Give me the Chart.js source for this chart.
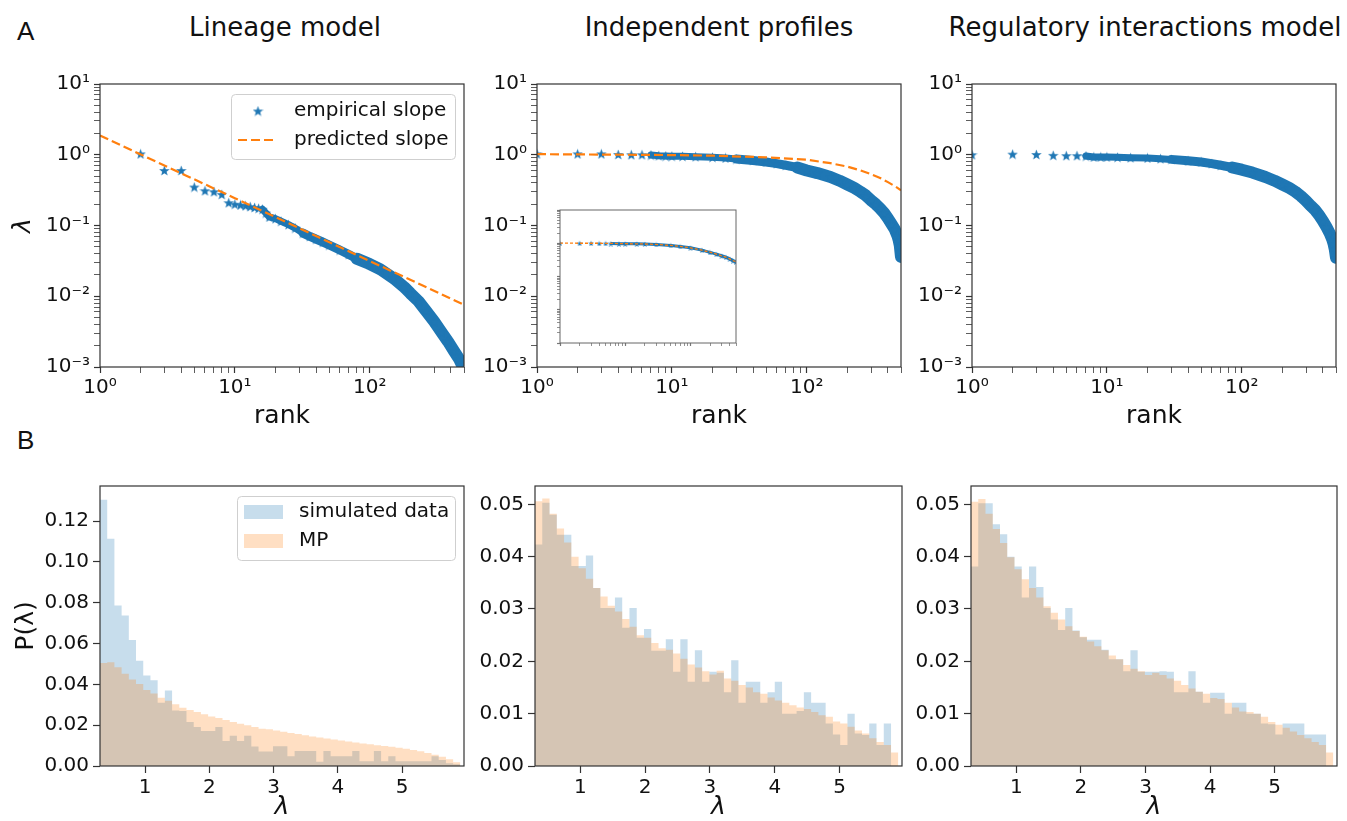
<!DOCTYPE html>
<html>
<head>
<meta charset="utf-8">
<title>Eigenvalue spectra</title>
<script src="https://cdn.jsdelivr.net/npm/chart.js@4.4.1/dist/chart.umd.min.js"></script>
<style>
  html, body { margin: 0; padding: 0; background: #fff; overflow: hidden; }
  body { position: relative; width: 1347px; height: 821px; }
  .txt { position: absolute; white-space: nowrap; color: #111; line-height: 30px; }
  .panel-title { font: 26px 'DejaVu Sans', sans-serif; transform: translateX(-50%); }
  .letter { font: 26px 'Liberation Sans', Arial, sans-serif; }
</style>
</head>
<body>
<div class="txt letter" style="left:17px; top:16px">A</div>
<div class="txt letter" style="left:17px; top:425px">B</div>
<div class="txt panel-title" style="left:285px; top:12px">Lineage model</div>
<div class="txt panel-title" style="left:719px; top:12px">Independent profiles</div>
<div class="txt panel-title" style="left:1145px; top:12px">Regulatory interactions model</div>
<script>
// ---- row A: eigenvalue vs rank (log-log) ----
const lineageRank = [2, 3, 4, 5, 6, 7, 8, 9, 10, 11, 12, 13, 14, 15, 16, 17, 18,
  20, 22, 25, 28, 32, 36, 40, 45, 50, 60, 70, 80, 100, 120, 150, 180, 200,
  230, 260, 300, 340, 380, 420, 460, 500];
const lineageEmpirical = [1.03, 0.60, 0.60, 0.35, 0.31, 0.30, 0.275, 0.21, 0.20, 0.195, 0.19, 0.185, 0.18, 0.175, 0.17, 0.15, 0.132,
  0.125, 0.115, 0.103, 0.092, 0.078, 0.070, 0.064, 0.058, 0.053, 0.045, 0.039, 0.034, 0.0285, 0.024, 0.018, 0.0135, 0.011,
  0.0085, 0.0063, 0.0044, 0.0031, 0.0023, 0.0017, 0.0013, 0.00093];
const lineagePredRank = [1, 10, 100, 500];
const lineagePredicted = [1.87, 0.243, 0.0315, 0.0076];

const independentRank = [1, 2, 3, 4, 5, 6, 7, 8, 9, 10, 12, 15, 20, 25, 30, 40, 50, 60, 70, 85,
  100, 120, 150, 175, 200, 225, 250, 275, 300, 325, 350, 375, 400, 425, 450, 470, 480, 490, 500];
const independentEmpirical = [1.03, 1.03, 1.03, 1.01, 1.0, 1.0, 0.99, 0.97, 0.96, 0.955, 0.95, 0.94, 0.92, 0.90, 0.87, 0.83, 0.79, 0.75, 0.71, 0.66,
  0.60, 0.55, 0.485, 0.43, 0.38, 0.34, 0.30, 0.265, 0.227, 0.20, 0.174, 0.15, 0.126, 0.105, 0.088, 0.072, 0.063, 0.052, 0.036];
const independentPredRank = [1, 10, 20, 50, 100, 150, 200, 250, 300, 350, 400, 450, 500];
const independentPredicted = [1.02, 0.99, 0.97, 0.92, 0.85, 0.76, 0.68, 0.60, 0.53, 0.47, 0.41, 0.36, 0.315];

const insetRank = [1, 2, 3, 4, 5, 6, 8, 10, 15, 20, 30, 50, 70, 100, 150, 200, 250, 300, 350, 400, 450, 500];
const insetEmpirical = [1.0, 1.0, 1.0, 0.99, 0.99, 0.98, 0.97, 0.97, 0.96, 0.95, 0.92, 0.86, 0.80, 0.73, 0.62, 0.53, 0.47, 0.42, 0.38, 0.34, 0.30, 0.275];
const insetPredicted = [1.01, 1.0, 1.0, 1.0, 0.99, 0.99, 0.98, 0.97, 0.96, 0.95, 0.92, 0.86, 0.80, 0.73, 0.62, 0.54, 0.47, 0.42, 0.38, 0.34, 0.30, 0.28];

const regulatoryRank = independentRank;
const regulatoryEmpirical = [1.0, 1.02, 1.01, 0.98, 0.97, 0.97, 0.96, 0.93, 0.93, 0.93, 0.92, 0.91, 0.90, 0.88, 0.86, 0.82, 0.79, 0.75, 0.71, 0.66,
  0.615, 0.56, 0.485, 0.43, 0.38, 0.34, 0.30, 0.26, 0.223, 0.19, 0.165, 0.14, 0.116, 0.095, 0.077, 0.063, 0.055, 0.046, 0.035];

// ---- row B: eigenvalue histograms (50 bins) ----
const BIN_START = 0.298, BIN_WIDTH = 0.1122, N_BINS = 50;
const lambdaTicks = [1, 2, 3, 4, 5];
const densityTicksLineage = [0, 0.02, 0.04, 0.06, 0.08, 0.10, 0.12];
const densityTicks = [0, 0.01, 0.02, 0.03, 0.04, 0.05];

const lineageSim = [0.1305, 0.1113, 0.0786, 0.0738, 0.0617, 0.0516, 0.0444, 0.0420, 0.0310, 0.0370,
  0.0272, 0.0270, 0.0215, 0.0191, 0.0172, 0.0172, 0.0191, 0.0122, 0.0148, 0.0122,
  0.0148, 0.0095, 0.0071, 0.0071, 0.0097, 0.0097, 0.0048, 0.0074, 0.0074, 0.0074,
  0.0021, 0.0074, 0.0048, 0.0048, 0.0048, 0.0074, 0.0023, 0.0023, 0.0074, 0.0023,
  0.0048, 0.0023, 0.0023, 0.0023, 0.0023, 0.0023, 0.0048, 0.0030, 0.0013, 0.0008];
const lineageMP = [0.0505, 0.0508, 0.0484, 0.0452, 0.0424, 0.0402, 0.0373, 0.0355, 0.0334, 0.0320,
  0.0302, 0.0286, 0.0275, 0.0264, 0.0254, 0.0243, 0.0235, 0.0225, 0.0215, 0.0207,
  0.0200, 0.0191, 0.0183, 0.0180, 0.0174, 0.0168, 0.0162, 0.0157, 0.0151, 0.0145,
  0.0140, 0.0135, 0.0130, 0.0125, 0.0120, 0.0115, 0.0110, 0.0106, 0.0102, 0.0098,
  0.0094, 0.0089, 0.0084, 0.0078, 0.0072, 0.0064, 0.0055, 0.0045, 0.0033, 0.0018];

const independentSim = [0.0423, 0.0503, 0.0480, 0.0442, 0.0442, 0.0382, 0.0382, 0.0402, 0.0340, 0.0302,
  0.0302, 0.0322, 0.0264, 0.0302, 0.0245, 0.0262, 0.0220, 0.0220, 0.0242, 0.0180,
  0.0242, 0.0161, 0.0221, 0.0161, 0.0180, 0.0178, 0.0141, 0.0202, 0.0121, 0.0161,
  0.0161, 0.0121, 0.0141, 0.0161, 0.0100, 0.0100, 0.0105, 0.0141, 0.0121, 0.0121,
  0.0081, 0.0060, 0.0040, 0.0100, 0.0062, 0.0059, 0.0081, 0.0040, 0.0081, 0.0000];
const independentMP = [0.0506, 0.0511, 0.0482, 0.0454, 0.0427, 0.0400, 0.0378, 0.0358, 0.0340, 0.0324,
  0.0306, 0.0295, 0.0281, 0.0266, 0.0250, 0.0245, 0.0235, 0.0225, 0.0222, 0.0215,
  0.0205, 0.0194, 0.0188, 0.0181, 0.0175, 0.0182, 0.0167, 0.0163, 0.0155, 0.0150,
  0.0141, 0.0138, 0.0131, 0.0125, 0.0121, 0.0116, 0.0112, 0.0109, 0.0103, 0.0097,
  0.0094, 0.0085, 0.0081, 0.0075, 0.0068, 0.0062, 0.0053, 0.0046, 0.0040, 0.0026];

const regulatorySim = [0.0381, 0.0502, 0.0502, 0.0462, 0.0443, 0.0400, 0.0381, 0.0322, 0.0381, 0.0342,
  0.0302, 0.0280, 0.0260, 0.0302, 0.0259, 0.0246, 0.0241, 0.0241, 0.0222, 0.0204,
  0.0204, 0.0181, 0.0221, 0.0180, 0.0180, 0.0180, 0.0181, 0.0180, 0.0141, 0.0141,
  0.0181, 0.0142, 0.0121, 0.0140, 0.0140, 0.0100, 0.0121, 0.0121, 0.0100, 0.0100,
  0.0081, 0.0080, 0.0060, 0.0081, 0.0081, 0.0081, 0.0060, 0.0060, 0.0060, 0.0000];
const regulatoryMP = [0.0505, 0.0510, 0.0482, 0.0453, 0.0426, 0.0399, 0.0376, 0.0357, 0.0340, 0.0322,
  0.0305, 0.0293, 0.0280, 0.0267, 0.0258, 0.0247, 0.0238, 0.0229, 0.0221, 0.0211,
  0.0204, 0.0193, 0.0186, 0.0181, 0.0174, 0.0178, 0.0174, 0.0167, 0.0163, 0.0155,
  0.0148, 0.0142, 0.0138, 0.0130, 0.0128, 0.0121, 0.0112, 0.0104, 0.0103, 0.0100,
  0.0094, 0.0084, 0.0079, 0.0073, 0.0066, 0.0059, 0.0053, 0.0046, 0.0040, 0.0026];

const BLUE = '#1f77b4', ORANGE = '#ff7f0e';
const BLUE_A = 'rgba(31,119,180,0.25)', ORANGE_A = 'rgba(255,127,14,0.25)';
const INK = '#111';

Chart.defaults.font.family = "'DejaVu Sans', sans-serif";
Chart.defaults.font.size = 20;
Chart.defaults.color = INK;
Chart.defaults.animation = false;
Chart.defaults.events = [];
Chart.defaults.plugins.legend.display = false;
Chart.defaults.plugins.tooltip.enabled = false;

// axes box on all four sides, like matplotlib spines
const framePlugin = {
  id: 'frame',
  defaults: { color: '#333', width: 1.2, fill: null },
  beforeDatasetsDraw(chart, args, o) {
    if (!o.fill) return;
    const a = chart.chartArea, ctx = chart.ctx;
    ctx.save();
    ctx.fillStyle = o.fill;
    ctx.fillRect(a.left, a.top, a.width, a.height);
    ctx.restore();
  },
  afterDatasetsDraw(chart, args, o) {
    const a = chart.chartArea, ctx = chart.ctx;
    ctx.save();
    ctx.strokeStyle = o.color;
    ctx.lineWidth = o.width;
    ctx.strokeRect(a.left, a.top, a.width, a.height);
    ctx.restore();
  }
};

// framed legend placed inside the axes (top right)
const boxLegend = {
  id: 'boxLegend',
  afterDraw(chart, args, o) {
    if (!o.items) return;
    const ctx = chart.ctx, a = chart.chartArea;
    const x0 = a.right - o.right - o.width, y0 = a.top + o.top;
    ctx.save();
    ctx.beginPath();
    ctx.roundRect(x0 + 0.5, y0 + 0.5, o.width, o.height, 4);
    ctx.fillStyle = 'rgba(255,255,255,0.8)';
    ctx.fill();
    ctx.strokeStyle = '#cfcfcf';
    ctx.lineWidth = 1;
    ctx.stroke();
    ctx.font = "20px 'DejaVu Sans'";
    ctx.textBaseline = 'middle';
    o.items.forEach(it => {
      const ds = chart.data.datasets[it.ds];
      const cy = y0 + it.y;
      if (it.kind === 'star') {
        const img = ds.pointStyle;
        ctx.drawImage(img, x0 + 27 - img.width / 2, cy - img.height / 2);
      } else if (it.kind === 'dash') {
        ctx.beginPath();
        ctx.setLineDash(ds.borderDash);
        ctx.strokeStyle = ds.borderColor;
        ctx.lineWidth = ds.borderWidth;
        ctx.moveTo(x0 + 7, cy);
        ctx.lineTo(x0 + 46, cy);
        ctx.stroke();
        ctx.setLineDash([]);
      } else {
        ctx.fillStyle = ds.backgroundColor;
        ctx.fillRect(x0 + 7, cy - 7, 39, 14);
      }
      ctx.fillStyle = INK;
      ctx.fillText(ds.label, x0 + o.textX, cy);
    });
    ctx.restore();
  }
};
Chart.register(framePlugin, boxLegend);

function starImage(size, color) {
  const c = document.createElement('canvas');
  c.width = size; c.height = size;
  const g = c.getContext('2d');
  const R = size / 2, r = R * 0.42;
  g.beginPath();
  for (let i = 0; i < 10; i++) {
    const ang = -Math.PI / 2 + i * Math.PI / 5;
    const rad = i % 2 ? r : R;
    g.lineTo(R + rad * Math.cos(ang), R + 0.5 + rad * Math.sin(ang));
  }
  g.closePath();
  g.fillStyle = color;
  g.fill();
  return c;
}

function pairs(xs, ys) { return xs.map((x, i) => ({ x: x, y: ys[i] })); }

function mount(left, top, width, height) {
  const c = document.createElement('canvas');
  c.width = width; c.height = height;
  c.style.cssText = 'position:absolute;left:' + left + 'px;top:' + top + 'px;width:' + width + 'px;height:' + height + 'px';
  document.body.appendChild(c);
  return c;
}

const SUP = { '-': '\u207B', '0': '\u2070', '1': '\u00B9', '2': '\u00B2', '3': '\u00B3' };
function powLabel(v) {
  const e = Math.round(Math.log10(v));
  return '10' + String(e).split('').map(ch => SUP[ch]).join('');
}
function logTickList(loExp, max) {
  const out = [];
  for (let e = loExp; e < 5; e++) {
    for (let m = 1; m <= 9; m++) {
      const v = m * Math.pow(10, e);
      if (v > max * 1.0001) return out;
      out.push({ value: v, major: m === 1 });
    }
  }
  return out;
}

function axisTitle(text, italic) {
  if (!text) return { display: false };
  return { display: true, text: text, color: INK, padding: 0,
    font: { size: 25, style: italic ? 'italic' : 'normal', lineHeight: 1 } };
}

function logAxis(pos, min, max, loExp, size, labels, title, italic, tickLen, tickColor) {
  return {
    type: 'logarithmic', position: pos, min: min, max: max,
    afterBuildTicks: s => { s.ticks = logTickList(loExp, max); },
    afterFit: s => { if (pos === 'left') s.width = size; else s.height = size; },
    ticks: { display: labels, autoSkip: false, maxRotation: 0, padding: pos === 'left' ? 4 : 3,
      callback: (v, i, t) => (t[i].major ? powLabel(v) : '') },
    grid: { drawOnChartArea: false, tickLength: tickLen || 6, tickColor: tickColor || '#333',
      tickWidth: c => (c.tick && c.tick.major ? 1.2 : 0.8) },
    border: { display: false },
    title: axisTitle(title, italic)
  };
}

// band = dense run of overlapping star markers
function bandWidth(rank) { return rank < 30 ? 7 : (rank < 80 ? 9 : 12); }

function empiricalSet(ranks, values, bandFrom, star) {
  return {
    label: 'empirical slope', data: pairs(ranks, values),
    pointStyle: star, pointRadius: 5, showLine: true,
    borderColor: BLUE, borderCapStyle: 'round', borderJoinStyle: 'round',
    segment: {
      borderColor: c => (c.p0.parsed.x >= bandFrom ? BLUE : 'rgba(0,0,0,0)'),
      borderWidth: c => bandWidth(c.p0.parsed.x)
    },
    clip: 0, order: 1
  };
}
function predictedSet(ranks, values) {
  return { label: 'predicted slope', data: pairs(ranks, values), showLine: true, pointRadius: 0,
    borderColor: ORANGE, borderWidth: 2.2, borderDash: [9, 4], clip: 0, order: 0 };
}

function rankPanel(geo, datasets, yTitle, legend) {
  const cv = mount(geo.l - geo.yW, geo.t - 15, geo.yW + geo.w + 4, 15 + geo.h + 62);
  return new Chart(cv, {
    type: 'scatter',
    data: { datasets: datasets },
    options: {
      responsive: false,
      layout: { padding: { top: 15, right: 4, bottom: 0, left: 0 } },
      plugins: { boxLegend: legend || {} },
      scales: {
        x: logAxis('bottom', 1, 500, 0, 62, true, 'rank', false),
        y: logAxis('left', 0.001, 10, -3, geo.yW, true, yTitle, true)
      }
    }
  });
}

const blueStar = starImage(11, BLUE);

rankPanel({ l: 100, t: 83, w: 366, h: 284, yW: 89 }, [
  empiricalSet(lineageRank, lineageEmpirical, 16, blueStar),
  predictedSet(lineagePredRank, lineagePredicted)
], '\u03BB', {
  right: 9, top: 10, width: 224, height: 65, textX: 63,
  items: [{ ds: 0, y: 17, kind: 'star' }, { ds: 1, y: 46, kind: 'dash' }]
});

rankPanel({ l: 537, t: 83, w: 366, h: 284, yW: 62 }, [
  empiricalSet(independentRank, independentEmpirical, 7, blueStar),
  predictedSet(independentPredRank, independentPredicted)
], null, null);

rankPanel({ l: 972, t: 83, w: 366, h: 284, yW: 62 }, [
  empiricalSet(regulatoryRank, regulatoryEmpirical, 7, blueStar)
], null, null);

// inset of the independent-profiles panel
(function () {
  const cv = mount(557 - 4, 205 - 2, 4 + 184 + 2, 2 + 141 + 4);
  const small = starImage(6, BLUE);
  new Chart(cv, {
    type: 'scatter',
    data: { datasets: [
      { data: pairs(insetRank, insetEmpirical), pointStyle: small, pointRadius: 3, showLine: true,
        borderColor: BLUE, borderWidth: 3,
        segment: { borderColor: c => (c.p0.parsed.x >= 6 ? BLUE : 'rgba(0,0,0,0)') }, clip: 0, order: 1 },
      { data: pairs(insetRank, insetPredicted), pointRadius: 0, showLine: true,
        borderColor: ORANGE, borderWidth: 1.3, borderDash: [3, 2], clip: 0, order: 0 }
    ] },
    options: {
      responsive: false,
      layout: { padding: { top: 2, right: 2, bottom: 0, left: 0 } },
      plugins: { frame: { color: '#666', width: 1, fill: '#fff' } },
      scales: {
        x: logAxis('bottom', 1, 500, 0, 4, false, null, false, 3, '#777'),
        y: logAxis('left', 0.001, 10, -3, 4, false, null, false, 3, '#777')
      }
    }
  });
})();

// ---- histogram panels: filled step outlines (one polygon per series, no seams) ----
const binEdges = Array.from({ length: N_BINS + 1 }, (_, i) => BIN_START + i * BIN_WIDTH);

function stepSet(label, counts, color, order) {
  // last edge closes the final bin at its own height
  return {
    label: label, data: pairs(binEdges, counts.concat([counts[counts.length - 1]])),
    showLine: true, stepped: 'before', pointRadius: 0, borderWidth: 0,
    borderColor: 'rgba(0,0,0,0)', backgroundColor: color, fill: 'origin', order: order
  };
}

function histPanel(geo, sim, mp, yMax, yTicks, yTitle, legend) {
  const cv = mount(geo.l - geo.yW, geo.t - 12, geo.yW + geo.w + 4, 12 + geo.h + 54);
  return new Chart(cv, {
    type: 'scatter',
    data: { datasets: [
      stepSet('simulated data', sim, BLUE_A, 1),
      stepSet('MP', mp, ORANGE_A, 0)
    ] },
    options: {
      responsive: false,
      layout: { padding: { top: 12, right: 4, bottom: 0, left: 0 } },
      plugins: { boxLegend: legend || {} },
      scales: {
        x: {
          type: 'linear', min: BIN_START, max: 5.965,
          afterBuildTicks: s => { s.ticks = lambdaTicks.map(v => ({ value: v })); },
          afterFit: s => { s.height = 54; },
          ticks: { autoSkip: false, maxRotation: 0, padding: 3 },
          grid: { drawOnChartArea: false, tickLength: 7, tickColor: '#333', tickWidth: 1.2 },
          border: { display: false },
          title: axisTitle('\u03BB', true)
        },
        y: {
          type: 'linear', min: 0, max: yMax,
          afterBuildTicks: s => { s.ticks = yTicks.map(v => ({ value: v })); },
          afterFit: s => { s.width = geo.yW; },
          ticks: { padding: 4, callback: v => v.toFixed(2) },
          grid: { drawOnChartArea: false, tickLength: 7, tickColor: '#333', tickWidth: 1.2 },
          border: { display: false },
          title: axisTitle(yTitle, false)
        }
      }
    }
  });
}

histPanel({ l: 100, t: 482, w: 364, h: 284, yW: 86 }, lineageSim, lineageMP, 0.1372, densityTicksLineage, 'P(\u03BB)', {
  right: 9, top: 10, width: 218, height: 64, textX: 62,
  items: [{ ds: 0, y: 16, kind: 'patch' }, { ds: 1, y: 45, kind: 'patch' }]
});
histPanel({ l: 535, t: 482, w: 367, h: 284, yW: 62 }, independentSim, independentMP, 0.0535, densityTicks, null, null);
histPanel({ l: 971, t: 482, w: 366, h: 284, yW: 62 }, regulatorySim, regulatoryMP, 0.0535, densityTicks, null, null);
</script>
</body>
</html>
